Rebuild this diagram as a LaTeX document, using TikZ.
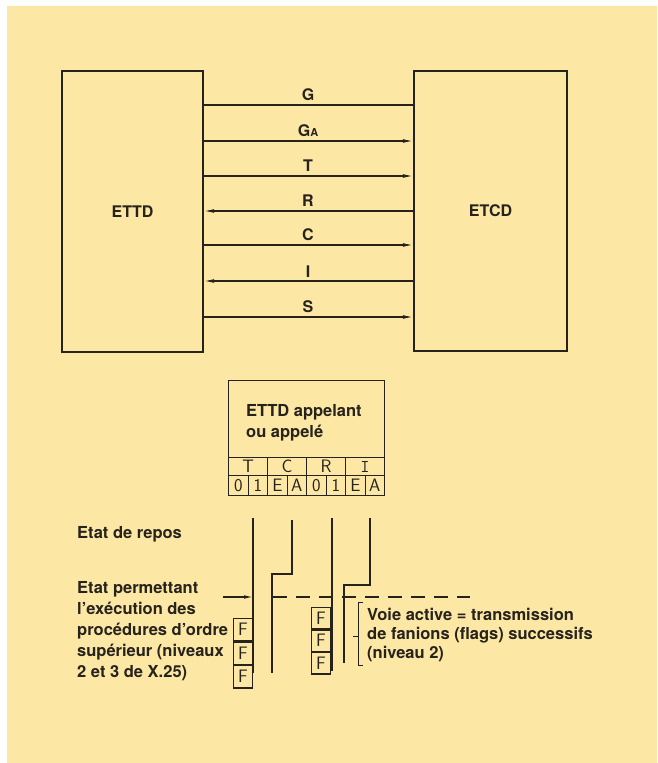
\documentclass[tikz,border=0pt]{standalone}
\usepackage{fontspec}
\setmainfont{TeX Gyre Heros}
\usetikzlibrary{arrows.meta}
\definecolor{paper}{RGB}{252,231,164}
\definecolor{ink}{RGB}{38,34,28}
\tikzset{
  bigbox/.style={draw=ink, line width=2.2pt, inner sep=0pt, text=ink, font=\fontsize{16}{19}\selectfont\bfseries},
  conn/.style={draw=ink, line width=1.1pt},
  tip/.style={-{Latex[length=10pt,width=3.8pt]}},
  lbl/.style={text=ink, inner sep=0pt, font=\fontsize{16}{19}\selectfont\bfseries},
  txt/.style={text=ink, inner sep=0pt, align=left, font=\fontsize{16.5}{21}\selectfont\bfseries},
  ltxt/.style={text=ink, inner sep=0pt, align=left, font=\fontsize{16.5}{21}\selectfont\bfseries},
  cell/.style={draw=ink, line width=1.2pt, inner sep=0pt, text=ink, font=\fontsize{18}{18}\selectfont\sffamily},
  sig/.style={draw=ink, line width=1.8pt},
  fbox/.style={draw=ink, line width=1.2pt, inner sep=0pt, minimum width=19pt, text=ink, font=\fontsize{18}{18}\selectfont\sffamily}
}
\begin{document}
\begin{tikzpicture}[x=1pt,y=-1pt]
\useasboundingbox (0,0) rectangle (657,763);
\fill[white] (0,0) rectangle (657,763);
\fill[paper] (7,6) rectangle (657,763);

% main boxes
\node[bigbox, minimum width=141pt, minimum height=281pt] (ettd) at (132.5,211.5) {ETTD};
\node[bigbox, minimum width=153pt, minimum height=280pt] (etcd) at (490.5,211) {ETCD};

% connectors
\draw[conn] (ettd.east |- 0,105) -- (etcd.west |- 0,105);
\draw[conn,tip] (ettd.east |- 0,141) -- (etcd.west |- 0,141);
\draw[conn,tip] (ettd.east |- 0,176) -- (etcd.west |- 0,176);
\draw[conn,tip] (etcd.west |- 0,211) -- (ettd.east |- 0,211);
\draw[conn,tip] (ettd.east |- 0,245) -- (etcd.west |- 0,245);
\draw[conn,tip] (etcd.west |- 0,281) -- (ettd.east |- 0,281);
\draw[conn,tip] (ettd.east |- 0,317) -- (etcd.west |- 0,317);

\node[lbl] (lG) at (308,95) {G};
\node[lbl] (lGA) at (308,131) {G{\fontsize{11}{11}\selectfont A}};
\node[lbl] (lT) at (308,166) {T};
\node[lbl] (lR) at (308,201) {R};
\node[lbl] (lC) at (308,235) {C};
\node[lbl] (lI) at (308,272) {I};
\node[lbl] (lS) at (308,307) {S};

% table
\node[draw=ink, line width=1.2pt, minimum width=156pt, minimum height=77pt, anchor=north west, inner sep=0pt] (hdr) at (228,380) {};
\node[txt, anchor=west] (hdrtxt) at (246,423) {ETTD appelant\\ou appelé};
\node[cell, minimum width=39pt, minimum height=18pt, anchor=north west] (cT) at (228,457) {T};
\node[cell, minimum width=39pt, minimum height=18pt, anchor=north west] (cC) at (267,457) {C};
\node[cell, minimum width=39pt, minimum height=18pt, anchor=north west] (cR) at (306,457) {R};
\node[cell, minimum width=39pt, minimum height=18pt, anchor=north west] (cI) at (345,457) {\ttfamily I};
\foreach \t [count=\i from 0] in {0,1,E,A,0,1,E,A}{
  \node[cell, minimum width=19.5pt, minimum height=20pt, anchor=north west] (b\i) at (228+19.5*\i,475) {\t};
}

% timing lines
\draw[sig] (253,518) -- (253,673);
\draw[sig] (292,520) -- (292,574) -- (272,574) -- (272,673);
\draw[sig] (332,518) -- (332,671);
\draw[sig] (370,518) -- (370,585) -- (344,585) -- (344,663);

\coordinate (arrstart) at (223,597);
\coordinate (arrend) at (253,597);
\draw[conn, -{Latex[length=9pt,width=3.6pt]}] (arrstart) -- (arrend);
\draw[draw=ink, line width=1.3pt, dash pattern=on 14pt off 9pt] (273,597) -- (470,597);

% F boxes
\node[fbox, minimum height=22.3pt, anchor=north east] (f1) at (253,618) {F};
\node[fbox, minimum height=22.3pt, anchor=north] (f2) at (f1.south) {F};
\node[fbox, minimum height=22.3pt, anchor=north] (f3) at (f2.south) {F};
\node[fbox, minimum height=21.3pt, anchor=north east] (g1) at (331,607) {F};
\node[fbox, minimum height=21.3pt, anchor=north] (g2) at (g1.south) {F};
\node[fbox, minimum height=21.3pt, anchor=north] (g3) at (g2.south) {F};

% bracket
\draw[draw=ink, line width=1pt] (363,602) -- (358,602) -- (358,665) -- (363,665);
\draw[draw=ink, line width=1pt] (353,636) -- (358,636);
\node[txt, anchor=north west, font=\fontsize{16.5}{19}\selectfont\bfseries] (voie) at (367,608) {Voie active = transmission\\de fanions (flags) successifs\\(niveau 2)};

% left texts
\node[ltxt, anchor=west] (repos) at (77,534) {Etat de repos};
\node[ltxt, anchor=north west] (perm) at (77,581) {Etat permettant\\l’exécution des\\procédures d’ordre\\supérieur (niveaux\\2 et 3 de X.25)};
\end{tikzpicture}
\end{document}
